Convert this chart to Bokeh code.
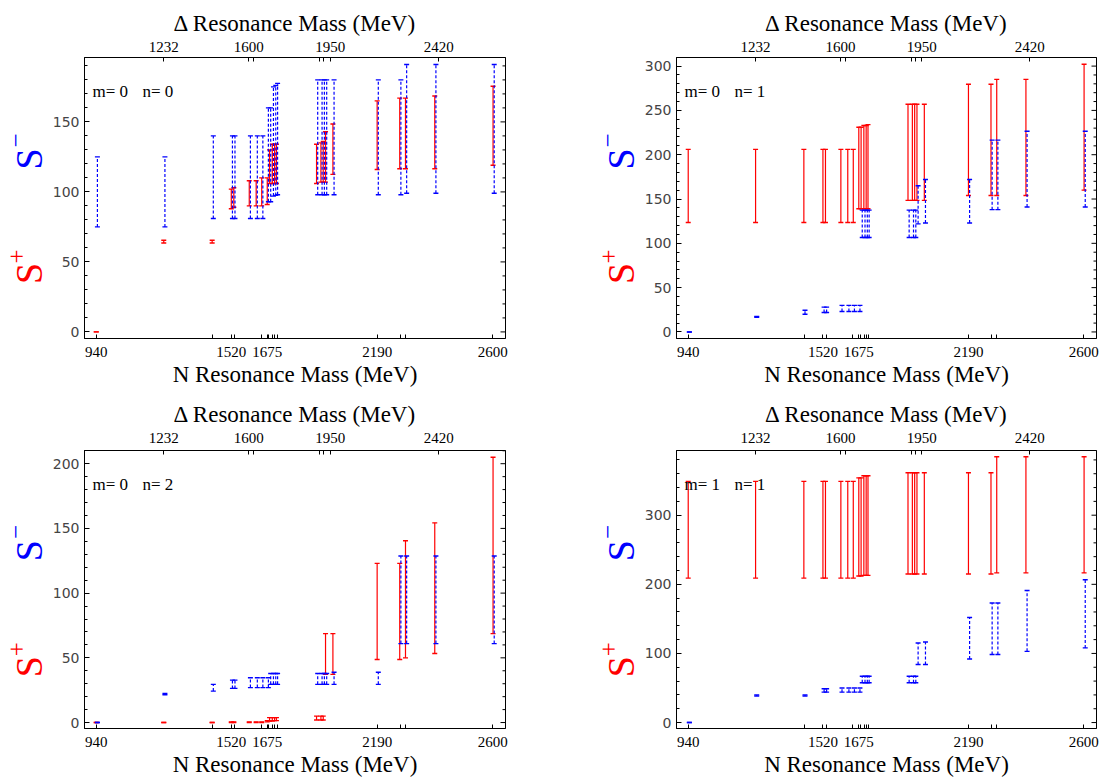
import math
from bokeh.plotting import figure
from bokeh.models import (ColumnDataSource, Range1d, LinearAxis, FixedTicker,
                          SingleIntervalTicker, Label)
from bokeh.layouts import row, column
from bokeh.transform import dodge
from bokeh.core.properties import value
from bokeh.embed import file_html
from bokeh.resources import INLINE

# ---------------- data ----------------
# resonance positions along the mass axis (MeV)
res_x = [940, 1233, 1443, 1526, 1537, 1604, 1634, 1658, 1682, 1692, 1704, 1714, 1722,
         1896, 1915, 1925, 1935, 1967, 2159, 2257, 2282, 2409, 2662]

# N (bottom) axis ticks and labels
n_tick_pos = [940, 1446, 1526, 1540, 1656, 1682, 1689, 1706, 1715, 1725, 2159, 2259, 2281, 2661]
n_tick_labels = ["940", "", "1520", "", "", "1675", "", "", "", "", "2190", "", "", "2600"]
# Delta (top) axis ticks and labels
d_tick_pos = [1233, 1602, 1624, 1910, 1927, 1956, 2426]
d_tick_labels = ["1232", "1600", "", "", "", "1950", "2420"]

# panel m=0 n=0
p00_plus_lo = [0, 63.5, 63.5, 88, 89, 90, 90, 90, 91, 106, 106, 106, 106, 106, 107, 107, 107, 112.5,
               116, 116.5, 116.5, 116.5, 119]
p00_plus_hi = [0, 65.5, 65.5, 102, 103, 108, 108, 110, 110, 130, 134, 134, 134, 134, 135, 136, 143, 148.5,
               165, 167, 167, 168.5, 175.5]
p00_minus_lo = [75, 75, 81, 81, 81, 81, 81, 81, 93, 93, 97, 97.5, 98, 98, 98, 98, 98, 98,
                98, 98, 99, 99, 99]
p00_minus_hi = [125, 125, 140, 140, 140, 140, 140, 140, 160, 160, 175, 176, 177.5, 180, 180, 180, 180, 180,
                180, 180, 191, 191, 191]

# panel m=0 n=1
p01_plus_lo = [123.5, 123.5, 123.5, 123.5, 123.5, 123.5, 123.5, 123.5, 139, 139, 139, 139, 139,
               148.5, 148.5, 148.5, 148.5, 148.5, 154, 154, 154, 154, 160]
p01_plus_hi = [206, 206, 206, 206, 206, 206, 206, 206, 231, 231, 233, 233, 234,
               257, 257, 257, 257, 257, 279.5, 279.5, 285, 285, 302]
p01_minus_lo = [0, 16.5, 20, 22, 22, 23, 23, 23, 23, 106.5, 106.5, 106.5, 106.5,
                106.5, 106.5, 106.5, 122, 123, 123, 138, 138, 141, 141]
p01_minus_hi = [0, 17.5, 24.5, 28, 28, 30, 30, 30, 30, 137.5, 137.5, 137.5, 137.5,
                137.5, 137.5, 137.5, 165, 172, 172, 216.5, 216.5, 226.5, 226.5]

# panel m=0 n=2
p02_plus_lo = [0, 0, 0, 0, 0, 0, 0, 0, 0.5, 1.2, 1.2, 1.5, 1.5,
               2, 2, 2, 37.2, 37.2, 48.7, 48.7, 50, 53.3, 68.7]
p02_plus_hi = [0, 0, 0, 0.5, 0.5, 0.5, 0.5, 0.5, 1.5, 3.8, 3.8, 3.8, 3.8,
               5, 5, 5, 68.7, 68.7, 123, 123, 140.5, 154.3, 205]
p02_minus_lo = [0, 21.5, 24.3, 26.4, 26.4, 27, 27, 27, 27, 29.5, 29.5, 29.5, 29.5,
                29.5, 29.5, 29.5, 29.5, 29.5, 29.5, 61, 61, 61, 61]
p02_minus_hi = [0, 22.5, 29.5, 32.8, 32.8, 34.6, 34.6, 34.6, 34.6, 37.9, 37.9, 37.9, 37.9,
                37.9, 37.9, 37.9, 37.9, 38.9, 38.9, 128.7, 128.7, 128.7, 128.7]

# panel m=1 n=1
p11_plus_lo = [209, 209, 209, 209, 209, 209, 209, 209, 212, 212, 213, 213, 213,
               215, 215, 215, 215, 215, 215, 215, 216.5, 216.5, 216.5]
p11_plus_hi = [349, 349, 349, 349, 349, 349, 349, 349, 354, 354, 357, 357, 357,
               361.5, 361.5, 361.5, 361.5, 361.5, 361.5, 361.5, 384.5, 384.5, 384.5]
p11_minus_lo = [0, 38.5, 38.5, 44, 44, 44, 44, 44, 44, 57.5, 57.5, 57.5, 57.5,
                57.5, 57.5, 57.5, 84, 84, 92, 98.5, 98.5, 103, 108]
p11_minus_hi = [0, 40, 40, 49, 49, 50, 50, 50, 50, 67, 67, 67, 67,
                67, 67, 67, 115, 116.5, 152, 173, 173, 191, 206.5]

SERIF = "Liberation Serif"
RED = "#ff0000"
BLUE = "#0000ff"
X0, X1 = 889, 2716


def make_panel(m_txt, n_txt, plus_lo, plus_hi, minus_lo, minus_hi, y0, y1, interval,
               width, height, bl, br, bt, bb, top_standoff, bottom_standoff):
    p = figure(width=width, height=height, output_backend="svg", toolbar_location=None,
               x_range=Range1d(X0, X1), y_range=Range1d(y0, y1),
               min_border_left=bl, min_border_right=br, min_border_top=bt, min_border_bottom=bb,
               background_fill_color="white", border_fill_color="white")
    p.grid.visible = False
    p.outline_line_color = "black"
    p.outline_line_width = 1

    src = ColumnDataSource(dict(x=res_x, plo=plus_lo, phi=plus_hi, mlo=minus_lo, mhi=minus_hi))

    # S+ (red, solid)
    p.segment(x0="x", y0="plo", x1="x", y1="phi", source=src, line_color=RED, line_width=1.2)
    p.scatter(x="x", y="plo", source=src, marker="dash", size=5, line_color=RED, line_width=1.4)
    p.scatter(x="x", y="phi", source=src, marker="dash", size=5, line_color=RED, line_width=1.4)
    # S- (blue, dashed)
    xb = dodge("x", 5)
    p.segment(x0=xb, y0="mlo", x1=xb, y1="mhi", source=src, line_color=BLUE, line_width=1.2,
              line_dash="3 2")
    p.scatter(x=xb, y="mlo", source=src, marker="dash", size=5, line_color=BLUE, line_width=1.4)
    p.scatter(x=xb, y="mhi", source=src, marker="dash", size=5, line_color=BLUE, line_width=1.4)

    # left y axis
    yt = SingleIntervalTicker(interval=interval, num_minor_ticks=5)
    ya = p.yaxis[0]
    ya.ticker = yt
    ya.major_label_text_font = "DejaVu Sans"
    ya.major_label_text_font_size = "14px"
    ya.major_label_text_color = "#444444"
    ya.major_label_standoff = 5
    ya.axis_line_color = "black"
    ya.major_tick_in = 5
    ya.major_tick_out = 0
    ya.minor_tick_in = 3
    ya.minor_tick_out = 0
    ya.major_tick_line_color = "black"
    ya.minor_tick_line_color = "black"

    # inward ticks on the right frame edge (mirror of the left axis)
    step = interval // 5
    maj = [v for v in range(0, int(y1) + 1, interval)]
    mnr = [v for v in range(0, int(y1) + 1, step) if v % interval]
    p.scatter(x=[X1] * len(maj), y=maj, marker="dash", size=10, line_color="black", line_width=1)
    p.scatter(x=[X1] * len(mnr), y=mnr, marker="dash", size=6, line_color="black", line_width=1)

    # bottom N axis
    xa = p.xaxis[0]
    xa.ticker = FixedTicker(ticks=n_tick_pos, minor_ticks=[])
    xa.major_label_overrides = dict(zip(n_tick_pos, n_tick_labels))
    xa.axis_label = "N Resonance Mass (MeV)"
    xa.major_label_standoff = bottom_standoff
    xa.axis_label_standoff = 2
    # top Delta axis
    ta = LinearAxis(ticker=FixedTicker(ticks=d_tick_pos, minor_ticks=[]))
    ta.major_label_overrides = dict(zip(d_tick_pos, d_tick_labels))
    ta.axis_label = "\u0394 Resonance Mass (MeV)"
    ta.major_label_standoff = top_standoff
    ta.axis_label_standoff = 3
    p.add_layout(ta, "above")
    for ax in [xa, ta]:
        ax.axis_line_color = "black"
        ax.major_tick_in = 4
        ax.major_tick_out = 0
        ax.minor_tick_in = 0
        ax.minor_tick_out = 0
        ax.major_tick_line_color = "black"
        ax.major_label_text_font = SERIF
        ax.major_label_text_font_size = "15px"
        ax.major_label_text_color = "black"
        ax.axis_label_text_font = SERIF
        ax.axis_label_text_font_size = "23px"
        ax.axis_label_text_font_style = "normal"
        ax.axis_label_text_color = "black"

    frame_h = height - bt - bb
    # panel caption
    p.add_layout(Label(x=8, y=frame_h - 34, x_units="screen", y_units="screen", text=m_txt,
                       text_font=SERIF, text_font_size="17px", text_baseline="middle",
                       text_color="black"))
    p.add_layout(Label(x=58, y=frame_h - 34, x_units="screen", y_units="screen", text=n_txt,
                       text_font=SERIF, text_font_size="17px", text_baseline="middle",
                       text_color="black"))
    return p


def make_ylabel(width, height, cy):
    """Narrow strip holding the coloured S+ / S- vertical axis title."""
    p = figure(width=width, height=height, output_backend="svg", toolbar_location=None,
               x_range=Range1d(0, width), y_range=Range1d(0, height), min_border=0,
               x_axis_type=None, y_axis_type=None)
    p.outline_line_color = None
    p.text(x=[28, 28], y=[cy + 55, cy - 106], text=["S", "S"], angle=math.pi / 2,
           text_color=[BLUE, RED], text_font=value(SERIF), text_font_size=value("38px"),
           text_align="center", text_baseline="middle")
    p.text(x=[15, 16], y=[cy + 81, cy - 82], text=["\u2212", "+"], angle=math.pi / 2,
           text_color=[BLUE, RED], text_font=value(SERIF), text_font_size=value("25px"),
           text_align="center", text_baseline="middle")
    return p


H1, H2 = 395, 386
LW = 48
f1 = make_panel("m= 0", "n= 0", p00_plus_lo, p00_plus_hi, p00_minus_lo, p00_minus_hi,
                -4.7, 196, 50, 544, H1, 36, 87, 57, 57, 6, 8)
f2 = make_panel("m= 0", "n= 1", p01_plus_lo, p01_plus_hi, p01_minus_lo, p01_minus_hi,
                -7.4, 309.7, 50, 461, H1, 36, 5, 57, 57, 6, 8)
f3 = make_panel("m= 0", "n= 2", p02_plus_lo, p02_plus_hi, p02_minus_lo, p02_minus_hi,
                -4.6, 210.2, 50, 544, H2, 36, 87, 55, 53, 8, 8)
f4 = make_panel("m= 1", "n= 1", p11_plus_lo, p11_plus_hi, p11_minus_lo, p11_minus_hi,
                -8.6, 393.6, 100, 461, H2, 36, 5, 55, 53, 8, 8)

cy1 = H1 - (57 + (H1 - 57 - 57) / 2)
cy2 = H2 - (55 + (H2 - 55 - 53) / 2)
l1 = make_ylabel(LW, H1, cy1)
l2 = make_ylabel(LW, H1, cy1)
l3 = make_ylabel(LW, H2, cy2)
l4 = make_ylabel(LW, H2, cy2)

layout = column(row(l1, f1, l2, f2), row(l3, f3, l4, f4))

open("out.html", "w").write(file_html(layout, INLINE))
